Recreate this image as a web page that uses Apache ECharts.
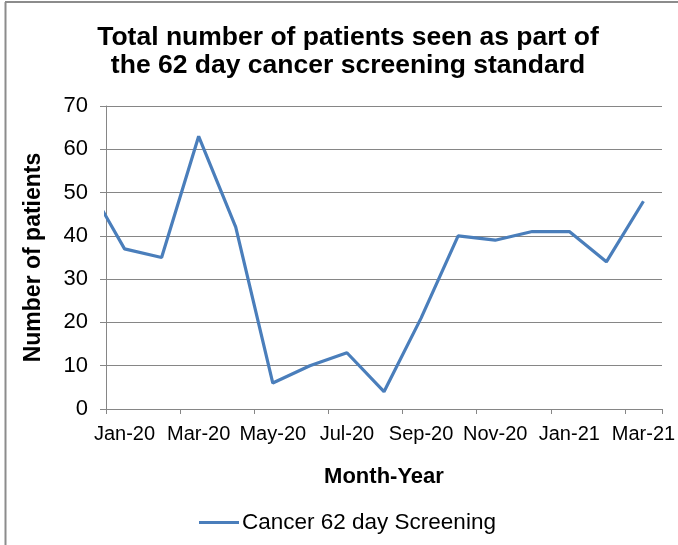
<!DOCTYPE html>
<html>
<head>
<meta charset="utf-8">
<script src="https://cdn.jsdelivr.net/npm/echarts@6/dist/echarts.min.js"></script>
<style>
  html, body { margin: 0; padding: 0; background: #fff; }
  #chart { width: 678px; height: 545px; }
</style>
</head>
<body>
<div id="chart"></div>
<script>
// months shown on the axis
const months = ["Jan-20", "Feb-20", "Mar-20", "Apr-20", "May-20", "Jun-20", "Jul-20", "Aug-20",
  "Sep-20", "Oct-20", "Nov-20", "Dec-20", "Jan-21", "Feb-21", "Mar-21"];
// Dec-19 point sits just off the left edge, line gets clipped there
const prevMonthValue = 52;
const patients = [37, 35, 63, 42, 6, 10, 13, 4, 21, 40, 39, 41, 41, 34, 48];
const yTicks = [0, 10, 20, 30, 40, 50, 60, 70];

// month index -> centre of its band on the value axis
const lineData = [[-0.5, prevMonthValue]].concat(patients.map((v, i) => [i + 0.5, v]));

const font = "Liberation Sans, Arial, sans-serif";
const myChart = echarts.init(document.getElementById("chart"));
myChart.setOption({
  animation: false,
  title: {
    text: "Total number of patients seen as part of\nthe 62 day cancer screening standard",
    left: 343,
    textAlign: "center",
    top: 19,
    textStyle: { fontFamily: font, fontSize: 26.5, fontWeight: "bold", color: "#000", lineHeight: 28 }
  },
  legend: {
    top: 506,
    left: 194,
    itemWidth: 40,
    itemHeight: 3,
    icon: "rect",
    itemGap: 3,
    textStyle: { fontFamily: font, fontSize: 22.5, color: "#000", padding: [0, 0, 0, -2] },
    data: ["Cancer 62 day Screening"]
  },
  grid: { left: 106, right: 12, top: 106, bottom: 136 },
  xAxis: [
    {
      type: "category",
      data: months,
      boundaryGap: true,
      name: "Month-Year",
      nameLocation: "middle",
      nameGap: 57,
      nameTextStyle: { fontFamily: font, fontSize: 22, fontWeight: "bold", color: "#000" },
      axisLine: { lineStyle: { color: "#868686", width: 1 } },
      axisTick: { show: true, interval: 1, length: 5, lineStyle: { color: "#868686" } },
      axisLabel: { interval: 1, fontFamily: font, fontSize: 20, color: "#000", margin: 15 },
      splitLine: { show: false }
    },
    {
      type: "value",
      min: 0,
      max: months.length,
      show: false
    }
  ],
  yAxis: {
    type: "value",
    min: yTicks[0],
    max: yTicks[yTicks.length - 1],
    interval: 10,
    name: "Number of patients",
    nameLocation: "middle",
    nameGap: 61,
    nameTextStyle: { fontFamily: font, fontSize: 23, fontWeight: "bold", color: "#000" },
    axisLine: { show: true, lineStyle: { color: "#868686" } },
    axisTick: { show: true, length: 6, lineStyle: { color: "#868686" } },
    axisLabel: { fontFamily: font, fontSize: 22, color: "#000", margin: 18 },
    splitLine: { lineStyle: { color: "#868686", width: 1 } }
  },
  series: [
    {
      name: "Cancer 62 day Screening",
      type: "line",
      xAxisIndex: 1,
      data: lineData,
      clip: true,
      showSymbol: false,
      symbol: "none",
      color: "#4a7ebb",
      lineStyle: { color: "#4a7ebb", width: 3.2 }
    }
  ],
  graphic: [
    { type: "line", shape: { x1: 5.5, y1: 2, x2: 5.5, y2: 545 }, style: { stroke: "#8c8c8c", lineWidth: 2 } },
    { type: "line", shape: { x1: 5, y1: 2, x2: 678, y2: 2 }, style: { stroke: "#8c8c8c", lineWidth: 2 } }
  ]
});
</script>
</body>
</html>
